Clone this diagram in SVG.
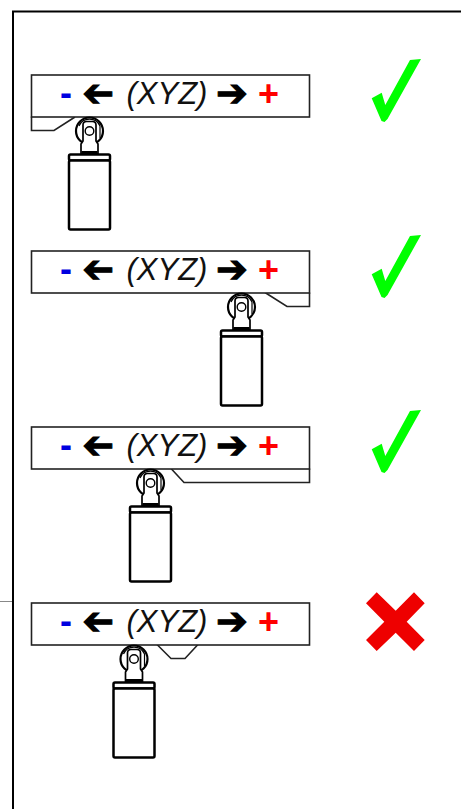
<svg xmlns="http://www.w3.org/2000/svg" width="461" height="809" viewBox="0 0 461 809">
<style>
.panel{fill:#fff;stroke:#222;stroke-width:1.6}
.cam{fill:none;stroke:#222;stroke-width:1.6}
.frame{fill:none;stroke:#000;stroke-width:2}
.lbl{font-family:"Liberation Sans",Arial,sans-serif;font-size:31px;font-style:italic;fill:#111}
.minus{font-family:"Liberation Sans",Arial,sans-serif;font-size:36px;font-weight:bold;fill:#0000e0}
.plus{font-family:"Liberation Sans",Arial,sans-serif;font-size:36px;font-weight:bold;fill:#f00}
.arrow{font-family:"DejaVu Sans",sans-serif;font-size:38px;fill:#000;stroke:#000;stroke-width:1}
.ok{fill:#0f0}
.no{fill:#ee0000}
.p{fill:#fff;stroke:#000}
</style>
<defs>
<g id="plunger">
<circle class="p" cx="0" cy="0" r="13.500" stroke-width="2.200"/>
<path d="M-10.500,-5 A11.500,11.500 0 0 1 10.500,-5 L10.500,7" fill="none" stroke="#000" stroke-width="1.200"/>
<path class="p" stroke-width="1.700" d="M-6.500,-6 Q-6.500,-9.500 -3,-9.500 L3,-9.500 Q6.500,-9.500 6.500,-6 L6.500,10 L8.500,13 L8.500,22.500 L-8.500,22.500 L-8.500,13 L-6.500,10 Z"/>
<circle class="p" cx="0" cy="0" r="4.300" stroke-width="1.400"/>
<rect x="-8" y="20" width="16" height="3" fill="#000"/>
<rect class="p" x="-20.500" y="23.500" width="41" height="6" rx="1.500" stroke-width="2.500"/>
<rect class="p" x="-20.500" y="29.500" width="41" height="69" rx="1.500" stroke-width="2.500"/>
</g>
<polygon id="check" points="371.700,98.300 381.700,92.700 385.300,105 410,60 421,59 387.500,119 384.500,122 381.500,121"/>
</defs>
<g id="frame">
<path class="frame" d="M461,11.500 H13 V809"/>
<path d="M0,601.500 H12" stroke="#888" stroke-width="1" fill="none"/>
</g>
<g id="row1">
<path class="cam" d="M31.500,116.500 V130.500 H54 L75,117"/>
<rect class="panel" x="31.500" y="75" width="278" height="42"/>
<text class="minus" x="60" y="105">-</text>
<text class="arrow" transform="translate(114,106) scale(-1,1)">➔</text>
<text class="lbl" x="126.500" y="104">(XYZ)</text>
<text class="arrow" x="216" y="106">➔</text>
<text class="plus" x="258" y="106">+</text>
<use href="#plunger" x="89.500" y="131"/>
<use href="#check" class="ok"/>
</g>
<g id="row2">
<path class="cam" d="M265,292.500 L287,306.500 H309.500 V292.500"/>
<rect class="panel" x="31.500" y="251" width="278" height="42"/>
<text class="minus" x="60" y="281">-</text>
<text class="arrow" transform="translate(114,282) scale(-1,1)">➔</text>
<text class="lbl" x="126.500" y="280">(XYZ)</text>
<text class="arrow" x="216" y="282">➔</text>
<text class="plus" x="258" y="282">+</text>
<use href="#plunger" x="241.500" y="307"/>
<use href="#check" class="ok" y="176"/>
</g>
<g id="row3">
<path class="cam" d="M171,468.500 L184,482.500 H309.500 V468.500"/>
<rect class="panel" x="31.500" y="427" width="278" height="42"/>
<text class="minus" x="60" y="457">-</text>
<text class="arrow" transform="translate(114,458) scale(-1,1)">➔</text>
<text class="lbl" x="126.500" y="456">(XYZ)</text>
<text class="arrow" x="216" y="458">➔</text>
<text class="plus" x="258" y="458">+</text>
<use href="#plunger" x="150.500" y="483"/>
<use href="#check" class="ok" y="351"/>
</g>
<g id="row4">
<path class="cam" d="M157,644.500 L171,658.500 H185 L198,644.500"/>
<rect class="panel" x="31.500" y="603" width="278" height="42"/>
<text class="minus" x="60" y="633">-</text>
<text class="arrow" transform="translate(114,634) scale(-1,1)">➔</text>
<text class="lbl" x="126.500" y="632">(XYZ)</text>
<text class="arrow" x="216" y="634">➔</text>
<text class="plus" x="258" y="634">+</text>
<use href="#plunger" x="134" y="659"/>
<polygon class="no" points="376.700,592.300 395.700,610.700 414,592.300 424.700,603.300 406.700,621.700 424.700,640 414,651 395.700,632.700 376.700,651 366,640 384.300,621.700 366,603.300"/>
</g>
<g id="connectors"/>
</svg>
